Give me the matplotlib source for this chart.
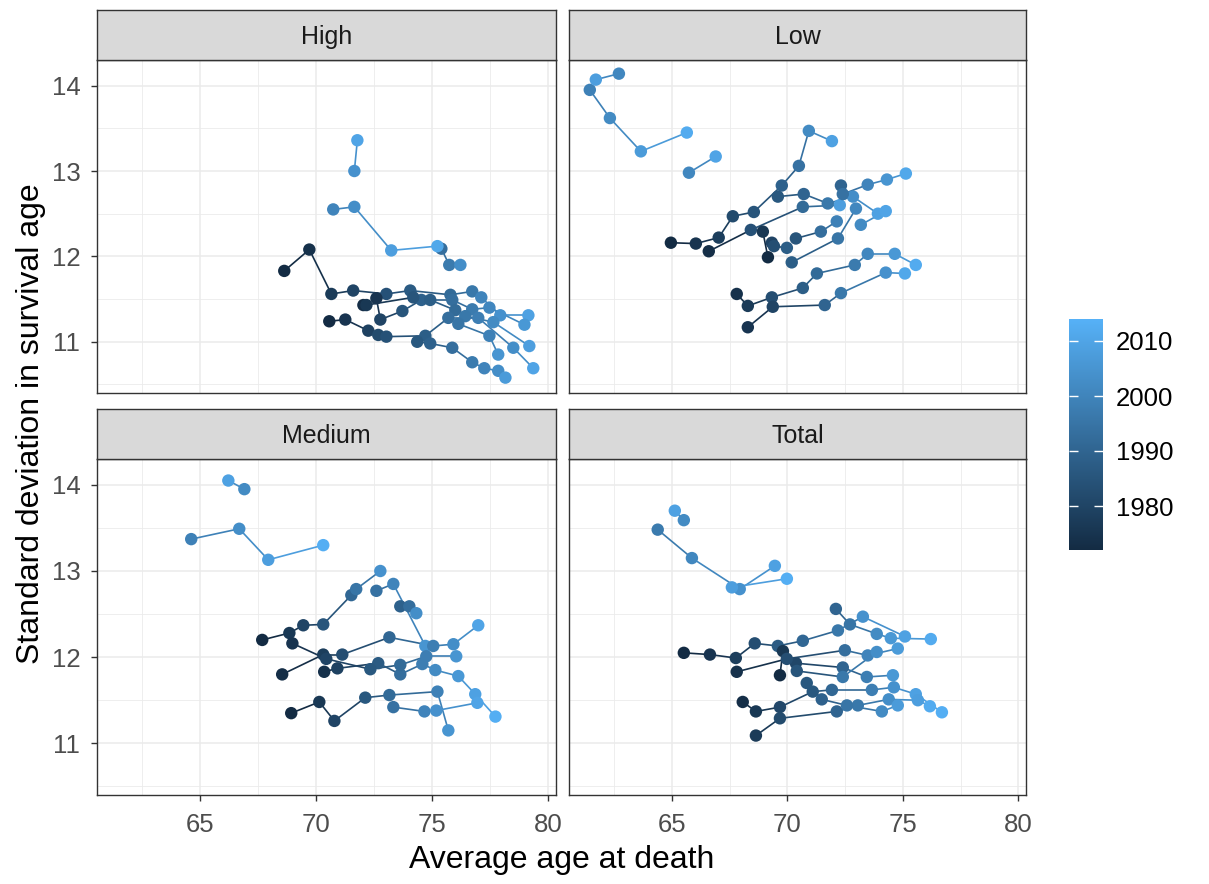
import matplotlib
matplotlib.use("Agg")
import matplotlib.pyplot as plt
import numpy as np
from matplotlib.colors import LinearSegmentedColormap, Normalize
from matplotlib.collections import LineCollection
from matplotlib.cm import ScalarMappable

plt.rcParams['font.family'] = ['Liberation Sans', 'DejaVu Sans']

# ---------------- data ----------------
panel_names = ["High", "Low", "Medium", "Total"]

high_group = [1]*11 + [2]*8 + [3]*8 + [4]*10 + [5]*7 + [6]*3 + [7]*3 + [8]*4 + [9]*2
high_x = [68.62, 69.70, 70.65, 71.59, 73.02, 74.05, 75.78, 76.72, 77.11, 77.93, 79.14,
          72.59, 72.76, 73.71, 74.53, 75.86, 76.72, 77.46, 78.97,
          72.03, 72.16, 74.18, 74.91, 75.99, 76.42, 77.63, 79.18,
          70.56, 71.25, 72.24, 72.67, 73.02, 74.70, 75.69, 76.98, 78.49, 79.35,
          74.35, 74.91, 75.86, 76.72, 77.24, 77.84, 78.15,
          76.12, 77.46, 77.84,
          75.39, 75.73, 76.21,
          70.73, 71.64, 73.23, 75.22,
          71.64, 71.77]
high_y = [11.83, 12.08, 11.56, 11.60, 11.56, 11.60, 11.55, 11.59, 11.52, 11.31, 11.31,
          11.51, 11.26, 11.36, 11.49, 11.49, 11.38, 11.40, 11.20,
          11.43, 11.43, 11.52, 11.49, 11.37, 11.30, 11.23, 10.95,
          11.24, 11.26, 11.13, 11.08, 11.06, 11.07, 11.28, 11.28, 10.93, 10.69,
          11.00, 10.98, 10.93, 10.76, 10.69, 10.66, 10.58,
          11.21, 11.07, 10.85,
          12.09, 11.90, 11.90,
          12.55, 12.58, 12.07, 12.12,
          13.00, 13.36]
high_year = [1972, 1974, 1977, 1980, 1984, 1987, 1992, 1996, 2000, 2004, 2009,
             1975, 1980, 1985, 1989, 1993, 1997, 2001, 2006,
             1973, 1976, 1985, 1988, 1992, 1996, 2002, 2008,
             1972, 1975, 1979, 1982, 1984, 1988, 1993, 1998, 2003, 2010,
             1986, 1989, 1993, 1997, 2000, 2003, 2007,
             1995, 1999, 2005,
             1993, 1997, 2003,
             2000, 2003, 2008, 2011,
             2004, 2010]

low_group = [1]*4 + [2]*2 + [3]*2 + [4]*9 + [5]*4 + [6]*2 + [7]*3 + [8]*3 + [9]*3 + [10]*5 + [11]*5 + [12]*2 + [13]*9 + [14]*6
low_x = [61.45, 62.32, 63.66, 65.65,
         62.71, 61.71,
         65.74, 66.90,
         64.96, 66.04, 67.03, 67.64, 68.55, 69.76, 70.50, 70.93, 71.93,
         66.60, 68.42, 70.67, 72.27,
         69.16, 68.94,
         69.33, 69.42, 69.98,
         70.37, 71.45, 72.14,
         70.19, 72.19, 72.97,
         69.59, 70.71, 71.75, 72.84, 73.92,
         72.32, 72.40, 73.48, 74.31, 75.13,
         73.18, 74.26,
         67.81, 68.29, 69.33, 70.67, 71.28, 72.92, 73.48, 74.65, 75.56,
         68.29, 69.37, 71.62, 72.32, 74.26, 75.09]
low_y = [13.95, 13.62, 13.23, 13.45,
         14.14, 14.07,
         12.98, 13.17,
         12.16, 12.15, 12.22, 12.47, 12.52, 12.83, 13.06, 13.47, 13.35,
         12.06, 12.31, 12.58, 12.60,
         11.99, 12.29,
         12.16, 12.12, 12.10,
         12.21, 12.29, 12.41,
         11.93, 12.21, 12.56,
         12.70, 12.73, 12.62, 12.70, 12.50,
         12.83, 12.73, 12.84, 12.90, 12.97,
         12.37, 12.53,
         11.56, 11.42, 11.52, 11.63, 11.80, 11.90, 12.03, 12.03, 11.90,
         11.17, 11.41, 11.43, 11.57, 11.81, 11.80]
low_year = [1999, 2002, 2007, 2012,
            2001, 2008,
            2001, 2010,
            1972, 1975, 1978, 1982, 1985, 1989, 1994, 2002, 2009,
            1973, 1984, 1992, 2008,
            1972, 1976,
            1980, 1983, 1988,
            1985, 1993, 1999,
            1988, 1995, 2001,
            1986, 1990, 1996, 2003, 2009,
            1990, 1994, 2000, 2005, 2011,
            2002, 2010,
            1974, 1977, 1983, 1988, 1992, 1997, 2001, 2006, 2012,
            1975, 1980, 1990, 1996, 2004, 2011]

med_group = [1]*2 + [2]*4 + [3]*7 + [4]*3 + [5]*3 + [6]*7 + [7]*9 + [8]*6 + [9]*7 + [10]*4
med_x = [66.90, 66.21,
         64.61, 66.68, 67.93, 70.30,
         67.67, 68.84, 69.44, 70.30, 71.51, 71.72, 72.76,
         72.59, 73.32, 74.70,
         73.62, 74.01, 74.31,
         68.53, 70.30, 71.12, 73.15, 75.04, 75.91, 76.98,
         70.34, 70.91, 72.67, 73.62, 74.57, 75.13, 76.12, 76.85, 77.72,
         68.97, 70.43, 72.33, 73.62, 74.74, 76.03,
         68.92, 70.13, 70.78, 72.11, 73.15, 75.22, 75.69,
         73.32, 74.66, 75.17, 76.94]
med_y = [13.95, 14.05,
         13.37, 13.49, 13.13, 13.30,
         12.20, 12.28, 12.37, 12.38, 12.72, 12.79, 13.00,
         12.77, 12.85, 12.13,
         12.59, 12.59, 12.51,
         11.80, 12.03, 12.03, 12.23, 12.13, 12.15, 12.37,
         11.83, 11.87, 11.93, 11.80, 11.92, 11.85, 11.78, 11.57, 11.31,
         12.16, 11.98, 11.86, 11.91, 12.01, 12.01,
         11.35, 11.48, 11.26, 11.53, 11.56, 11.60, 11.15,
         11.42, 11.37, 11.38, 11.47]
med_year = [2002, 2009,
            1999, 2003, 2008, 2013,
            1972, 1976, 1980, 1985, 1991, 1995, 2004,
            1994, 2000, 2005,
            1989, 1993, 2003,
            1973, 1978, 1983, 1991, 1998, 2003, 2010,
            1974, 1979, 1987, 1993, 1998, 2002, 2006, 2009, 2013,
            1975, 1980, 1986, 1992, 1998, 2005,
            1972, 1976, 1980, 1986, 1992, 1999, 2005,
            1994, 2000, 2004, 2010]

tot_group = [1]*2 + [2]*4 + [3]*2 + [4]*9 + [5]*5 + [6]*6 + [7]*5 + [8]*3 + [9]*9 + [10]*7 + [11]*5
tot_x = [65.52, 65.13,
         64.39, 65.87, 67.94, 69.46,
         67.60, 69.98,
         65.52, 66.65, 67.77, 68.59, 69.59, 70.67, 72.19, 73.27, 75.09,
         72.10, 72.71, 73.87, 74.48, 76.21,
         69.68, 69.81, 70.37, 72.40, 73.44, 74.57,
         67.81, 69.98, 72.49, 73.48, 74.78,
         70.41, 72.40, 73.87,
         68.07, 68.64, 69.68, 71.10, 71.93, 73.66, 74.61, 75.56, 76.69,
         68.64, 69.68, 72.14, 73.05, 74.39, 75.65, 76.17,
         70.84, 71.49, 72.58, 74.09, 74.78]
tot_y = [13.59, 13.70,
         13.48, 13.15, 12.79, 13.06,
         12.81, 12.91,
         12.05, 12.03, 11.99, 12.16, 12.13, 12.19, 12.31, 12.47, 12.24,
         12.56, 12.38, 12.27, 12.22, 12.21,
         11.79, 12.07, 11.93, 11.88, 11.77, 11.79,
         11.83, 11.98, 12.08, 12.02, 12.10,
         11.84, 11.77, 12.06,
         11.48, 11.37, 11.42, 11.60, 11.62, 11.62, 11.65, 11.57, 11.36,
         11.09, 11.29, 11.37, 11.44, 11.51, 11.50, 11.43,
         11.70, 11.51, 11.44, 11.37, 11.44]
tot_year = [2002, 2009,
            1997, 2001, 2004, 2009,
            2008, 2013,
            1972, 1975, 1978, 1983, 1987, 1991, 1996, 2004, 2009,
            1990, 1995, 2002, 2006, 2012,
            1972, 1976, 1981, 1990, 1998, 2006,
            1974, 1983, 1993, 2000, 2007,
            1985, 1996, 2003,
            1973, 1976, 1981, 1986, 1991, 1998, 2004, 2009, 2013,
            1977, 1982, 1990, 1996, 2003, 2008, 2012,
            1986, 1989, 1995, 2002, 2007]

panel_data = {
    "High": (high_group, high_x, high_y, high_year),
    "Low": (low_group, low_x, low_y, low_year),
    "Medium": (med_group, med_x, med_y, med_year),
    "Total": (tot_group, tot_x, tot_y, tot_year),
}

x_ticks = [65, 70, 75, 80]
y_ticks = [11, 12, 13, 14]
year_ticks = [1980, 1990, 2000, 2010]
year_limits = (1972, 2014)

# ---------------- figure ----------------
W, H = 1209, 884
fig = plt.figure(figsize=(W / 100, H / 100), dpi=100)

def rect(x0, y0, x1, y1):
    return [x0 / W, 1 - y1 / H, (x1 - x0) / W, (y1 - y0) / H]

cmap = LinearSegmentedColormap.from_list("gg", ["#132B43", "#56B1F7"])
norm = Normalize(*year_limits)

cols = [(97, 556), (569, 1026)]
rows = [(60, 393), (459, 795)]
strip_h = 50

for i, name in enumerate(panel_names):
    r, c = divmod(i, 2)
    x0, x1 = cols[c]
    y0, y1 = rows[r]
    ax = fig.add_axes(rect(x0, y0, x1, y1))
    sax = fig.add_axes(rect(x0, y0 - strip_h, x1, y0))
    sax.set_facecolor("#D9D9D9")
    sax.set_xticks([]); sax.set_yticks([])
    for s in sax.spines.values():
        s.set_color("#333333"); s.set_linewidth(1.0)
    sax.text(0.5, 0.46, name, ha="center", va="center", fontsize=18,
             color="#1A1A1A", transform=sax.transAxes)

    g, xs, ys, yrs = panel_data[name]
    g = np.array(g); xs = np.array(xs); ys = np.array(ys); yrs = np.array(yrs, float)
    segs, segc = [], []
    for gid in np.unique(g):
        m = g == gid
        order = np.argsort(yrs[m], kind="stable")
        gx, gy, gyr = xs[m][order], ys[m][order], yrs[m][order]
        for k in range(len(gx) - 1):
            segs.append([(gx[k], gy[k]), (gx[k + 1], gy[k + 1])])
            segc.append(cmap(norm(gyr[k])))
    lc = LineCollection(segs, colors=segc, linewidths=1.2, zorder=3)
    ax.add_collection(lc)
    ax.scatter(xs, ys, c=yrs, cmap=cmap, norm=norm, s=80, linewidths=0, zorder=4)

    ax.set_xlim(60.55, 80.33)
    ax.set_ylim(10.40, 14.30)
    ax.set_xticks(x_ticks)
    ax.set_yticks(y_ticks)
    ax.set_xticks([62.5, 67.5, 72.5, 77.5], minor=True)
    ax.set_yticks([10.5, 11.5, 12.5, 13.5], minor=True)
    ax.grid(True, which="major", color="#EBEBEB", linewidth=1.1, zorder=0)
    ax.grid(True, which="minor", color="#EBEBEB", linewidth=0.6, zorder=0)
    ax.set_axisbelow(True)
    for s in ax.spines.values():
        s.set_color("#333333"); s.set_linewidth(1.0)
    ax.tick_params(which="minor", length=0)
    ax.tick_params(which="major", length=4, width=1.0, color="#333333",
                   labelsize=18.5, labelcolor="#4D4D4D")
    ax.tick_params(axis="x", pad=9)
    ax.tick_params(axis="y", pad=8)
    if r == 0:
        ax.tick_params(axis="x", which="major", length=0, labelbottom=False)
    if c == 1:
        ax.tick_params(axis="y", which="major", length=0, labelleft=False)

fig.text(562 / W, 1 - 860 / H, "Average age at death", ha="center", va="center",
         fontsize=23, color="black")
fig.text(31 / W, 1 - 424 / H, "Standard deviation in survival age", ha="center",
         va="center", rotation=90, fontsize=23, color="black")

# colour bar
cax = fig.add_axes(rect(1069, 319, 1103, 550))
sm = ScalarMappable(norm=norm, cmap=cmap)
cb = fig.colorbar(sm, cax=cax, ticks=year_ticks)
cb.outline.set_visible(False)
cax.tick_params(which="major", direction="in", color="white", length=6.5, width=1.0,
                left=True, right=True, labelsize=18.5, labelcolor="black", pad=9)
cax.tick_params(which="minor", length=0)

fig.savefig("out.png", dpi=100)
